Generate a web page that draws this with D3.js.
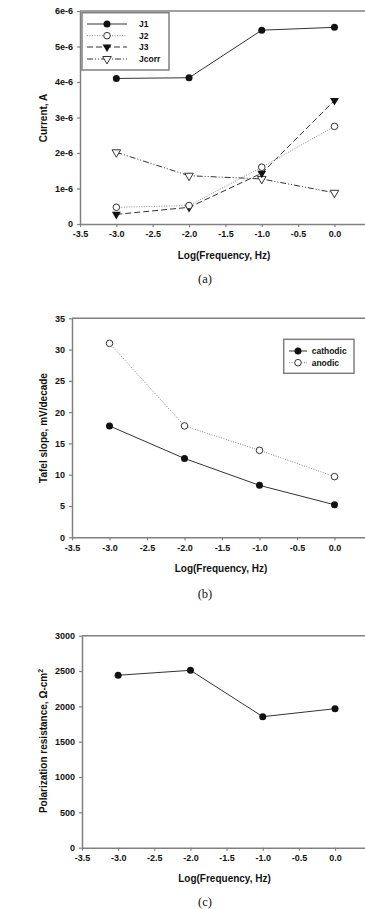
<!DOCTYPE html>
<html><head><meta charset="utf-8">
<script src="https://cdn.jsdelivr.net/npm/d3@7"></script>
<style>
body{margin:0;background:#fff;}
svg{display:block;}
</style></head>
<body><svg id="c" width="365" height="909"></svg>
<script>
// ---- data ----
const logFreq = [-3, -2, -1, 0];
const xTicks = [-3.5, -3.0, -2.5, -2.0, -1.5, -1.0, -0.5, 0.0];
const xTickLabels = ["-3.5", "-3.0", "-2.5", "-2.0", "-1.5", "-1.0", "-0.5", "0.0"];
// panel (a)
const j1 = [4.10e-6, 4.12e-6, 5.46e-6, 5.54e-6];
const j2 = [0.47e-6, 0.52e-6, 1.60e-6, 2.75e-6];
const j3 = [0.27e-6, 0.47e-6, 1.43e-6, 3.48e-6];
const jcorr = [2.02e-6, 1.36e-6, 1.27e-6, 0.88e-6];
const aTicks = [0, 1e-6, 2e-6, 3e-6, 4e-6, 5e-6, 6e-6];
const aTickLabels = ["0", "1e-6", "2e-6", "3e-6", "4e-6", "5e-6", "6e-6"];
// panel (b)
const cathodic = [17.8, 12.6, 8.3, 5.2];
const anodic = [31.0, 17.8, 13.9, 9.7];
const bTicks = [0, 5, 10, 15, 20, 25, 30, 35];
// panel (c)
const rp = [2440, 2510, 1854, 1967];
const cTicks = [0, 500, 1000, 1500, 2000, 2500, 3000];

const svg = d3.select("#c");
const AX = "#808080", LN = "#333";
const sans = '"Liberation Sans",Arial,sans-serif';

function panel(o) {
  const x = d3.scaleLinear().domain([-3.5, 0.5]).range([o.left, o.right]);
  const y = d3.scaleLinear().domain(o.yDomain).range([o.bottom, o.top]);
  const g = svg.append("g");
  g.append("line").attr("x1", o.left).attr("x2", o.right).attr("y1", o.top).attr("y2", o.top)
    .attr("stroke", AX).attr("stroke-width", 1.5);
  g.append("line").attr("x1", o.right).attr("x2", o.right).attr("y1", o.top).attr("y2", o.bottom)
    .attr("stroke", AX).attr("stroke-width", 1.5);
  const xa = g.append("g").attr("transform", `translate(0,${o.bottom})`)
    .call(d3.axisBottom(x).tickValues(xTicks).tickFormat((d, i) => xTickLabels[i]).tickSize(3).tickSizeOuter(0).tickPadding(4));
  const ya = g.append("g").attr("transform", `translate(${o.left},0)`)
    .call(d3.axisLeft(y).tickValues(o.yTicks).tickFormat((d, i) => o.yLabels ? o.yLabels[i] : String(d)).tickSize(3).tickSizeOuter(0).tickPadding(4));
  [xa, ya].forEach(a => {
    a.select(".domain").attr("stroke", AX).attr("stroke-width", 1.5);
    a.selectAll(".tick line").attr("stroke", AX).attr("stroke-width", 1.2);
    a.selectAll(".tick text").style("font-family", sans).style("font-weight", "bold")
      .style("font-size", "9px").attr("fill", "#111");
  });
  g.append("text").attr("x", o.xTitleX).attr("y", o.bottom + 34.5).attr("text-anchor", "middle")
    .style("font-family", sans).style("font-weight", "bold").style("font-size", "10px").attr("fill", "#111").text("Log(Frequency, Hz)");
  const yt = g.append("text").attr("transform", `translate(46.5,${o.yTitleY}) rotate(-90)`).attr("text-anchor", "middle")
    .style("font-family", sans).style("font-weight", "bold").style("font-size", "10px").attr("fill", "#111");
  if (o.yTitleSup) { yt.text(o.yTitle); yt.append("tspan").attr("dy", -4).style("font-size", "7px").text(o.yTitleSup); }
  else yt.text(o.yTitle);
  g.append("text").attr("x", 205).attr("y", o.capY).attr("text-anchor", "middle")
    .style("font-family", '"Liberation Serif","Times New Roman",serif').style("font-size", "12.5px").attr("fill", "#111").text(o.caption);
  return { x, y, g };
}

function marker(sel, kind) {
  if (kind === "fc") return sel.append("circle").attr("r", 3.5).attr("fill", "#111");
  if (kind === "oc") return sel.append("circle").attr("r", 3.3).attr("fill", "#fff").attr("stroke", "#333").attr("stroke-width", 1);
  if (kind === "ft") return sel.append("path").attr("d", d3.symbol(d3.symbolTriangle, 34)()).attr("transform", "rotate(180)").attr("fill", "#111");
  if (kind === "ot") return sel.append("path").attr("d", d3.symbol(d3.symbolTriangle, 32)()).attr("transform", "rotate(180)").attr("fill", "#fff").attr("stroke", "#333").attr("stroke-width", 1);
}

function series(p, vals, st) {
  const line = d3.line().x((d, i) => p.x(logFreq[i])).y(d => p.y(d));
  p.g.append("path").datum(vals).attr("d", line).attr("fill", "none")
    .attr("stroke", st.color).attr("stroke-width", st.w || 1).attr("stroke-dasharray", st.dash || null);
  vals.forEach((v, i) => {
    const m = p.g.append("g").attr("transform", `translate(${p.x(logFreq[i])},${p.y(v)})`);
    marker(m, st.mk);
  });
}

function legend(p, box, items, lx1, lx2, tx) {
  p.g.append("rect").attr("x", box[0]).attr("y", box[1]).attr("width", box[2]).attr("height", box[3])
    .attr("fill", "#fff").attr("stroke", AX).attr("stroke-width", 1.5);
  items.forEach(it => {
    p.g.append("line").attr("x1", lx1).attr("x2", lx2).attr("y1", it.y).attr("y2", it.y)
      .attr("stroke", it.st.color).attr("stroke-width", it.st.w || 1).attr("stroke-dasharray", it.st.dash || null);
    const m = p.g.append("g").attr("transform", `translate(${(lx1 + lx2) / 2},${it.y})`);
    marker(m, it.st.mk);
    p.g.append("text").attr("x", tx).attr("y", it.y + 3).style("font-family", sans).style("font-weight", "bold")
      .style("font-size", "8.5px").attr("fill", "#111").text(it.name);
  });
}

// ---- panel (a) ----
const sJ1 = { color: LN, mk: "fc" }, sJ2 = { color: "#888", dash: "1,1.5", mk: "oc" },
      sJ3 = { color: LN, dash: "6,3", mk: "ft" }, sJc = { color: LN, dash: "6,2,1,2,1,2", mk: "ot" };
const pa = panel({ left: 80, right: 370.8, top: 11, bottom: 224, yDomain: [0, 6e-6], yTicks: aTicks, yLabels: aTickLabels,
  xTitleX: 224, yTitle: "Current, A", yTitleY: 118, caption: "(a)", capY: 283 });
series(pa, jcorr, sJc); series(pa, j3, sJ3); series(pa, j2, sJ2); series(pa, j1, sJ1);
legend(pa, [82, 12.7, 87, 57.3], [
  { name: "J1", y: 24, st: sJ1 }, { name: "J2", y: 35.7, st: sJ2 },
  { name: "J3", y: 47, st: sJ3 }, { name: "Jcorr", y: 59, st: sJc }], 87, 127, 139);

// ---- panel (b) ----
const sCa = { color: LN, mk: "fc" }, sAn = { color: "#888", dash: "1,1.5", mk: "oc" };
const pb = panel({ left: 72, right: 372, top: 318.3, bottom: 537.3, yDomain: [0, 35], yTicks: bTicks,
  xTitleX: 221, yTitle: "Tafel slope, mV/decade", yTitleY: 428, caption: "(b)", capY: 598 });
series(pb, anodic, sAn); series(pb, cathodic, sCa);
legend(pb, [283.7, 339.3, 70.3, 34], [
  { name: "cathodic", y: 351, st: sCa }, { name: "anodic", y: 362.7, st: sAn }], 289, 307, 311.7);

// ---- panel (c) ----
const pc = panel({ left: 82, right: 371.2, top: 635.7, bottom: 847.7, yDomain: [0, 3000], yTicks: cTicks,
  xTitleX: 224.5, yTitle: "Polarization resistance, Ω-cm", yTitleSup: "2", yTitleY: 741, caption: "(c)", capY: 905.5 });
series(pc, rp, { color: LN, mk: "fc" });
</script></body></html>
